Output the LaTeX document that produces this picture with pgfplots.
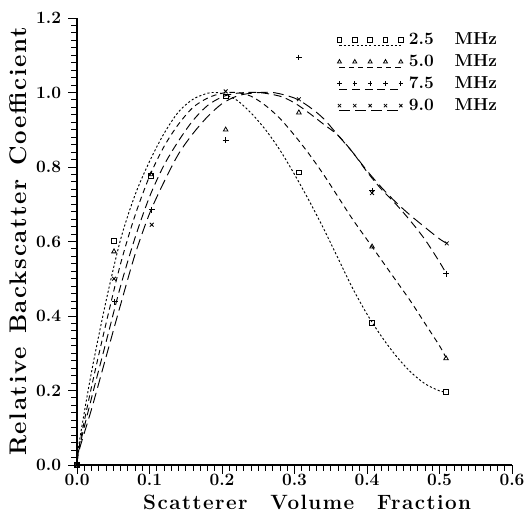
\documentclass[border=0pt]{standalone}
\usepackage{fontspec}
\newfontfamily\lblfont[LetterSpace=7]{Latin Modern Roman}
\usepackage{pgfplots}
\pgfplotsset{compat=1.18}
\pgfplotsset{
  leg/.style n args={2}{legend image code/.code={
      \draw[#1, line width=0.7pt] (0pt,-4pt) -- (46pt,-4pt);
      \draw[solid, line width=0.6pt, mark=#2, mark size=1.7pt] plot coordinates {(0pt,0pt)};
      \draw[solid, line width=0.6pt, mark=#2, mark size=1.7pt] plot coordinates {(11.5pt,0pt)};
      \draw[solid, line width=0.6pt, mark=#2, mark size=1.7pt] plot coordinates {(23pt,0pt)};
      \draw[solid, line width=0.6pt, mark=#2, mark size=1.7pt] plot coordinates {(34.5pt,0pt)};
      \draw[solid, line width=0.6pt, mark=#2, mark size=1.7pt] plot coordinates {(46pt,0pt)};
      \path[draw=none] (0pt,0pt) -- (50pt,0pt);
  }},
}
\begin{document}
\begin{tikzpicture}
\begin{axis}[
  name=ax,
  width=326pt, height=335pt, scale only axis,
  xmin=0, xmax=0.6, ymin=0, ymax=1.2,
  axis x line=bottom, axis y line=left,
  axis line style={-, line width=1pt},
  xtick={0,0.1,0.2,0.3,0.4,0.5,0.6},
  ytick={0,0.2,0.4,0.6,0.8,1.0,1.2},
  minor x tick num=9, minor y tick num=9,
  tick align=outside, major tick length=6.75pt, minor tick length=4.5pt,
  every tick/.style={black, line width=0.7pt},
  /pgf/number format/.cd, fixed, fixed zerofill, precision=1, assume math mode=true,
  /pgfplots/.cd,
  ticklabel style={font=\bfseries\fontsize{13}{15}\selectfont},
  xticklabel style={inner sep=1pt, yshift=1pt},
  yticklabel style={xshift=-1.7pt},
  xlabel={Scatterer\hspace{1.1em}Volume\hspace{1.1em}Fraction},
  ylabel={Relative\hspace{0.55em}Backscatter\hspace{0.55em}Coefficient},
  label style={font=\lblfont\bfseries\fontsize{18}{20}\selectfont},
  xlabel style={at={(axis description cs:0.529,0)}, anchor=base, yshift=-33.5pt,
    inner sep=0.5pt, font=\lblfont\bfseries\fontsize{15.5}{17}\selectfont},
  ylabel style={at={(axis description cs:0,0.5)}, anchor=center, yshift=44pt},
  legend style={draw=none, fill=none, at={(axis description cs:1,1)}, anchor=north east,
    xshift=-9pt, yshift=-9pt,
    font=\bfseries\fontsize{13}{15}\selectfont, row sep=2pt, inner sep=0pt},
  legend cell align=left,
  clip=false,
]
% fitted curves
\addplot[black, line width=0.7pt, dash pattern=on 1.6pt off 1.6pt, smooth, forget plot] coordinates {
(0,0) (0.003,0.06) (0.02,0.25) (0.04,0.44) (0.06,0.605) (0.08,0.725) (0.1,0.815) (0.12,0.89) (0.14,0.948) (0.16,0.982) (0.18,0.998) (0.19,1.0) (0.2,0.997) (0.22,0.98) (0.24,0.945) (0.26,0.9) (0.28,0.845) (0.3,0.78) (0.32,0.71) (0.34,0.635) (0.36,0.555) (0.38,0.475) (0.4,0.405) (0.42,0.345) (0.44,0.293) (0.46,0.25) (0.48,0.218) (0.5,0.199) (0.509,0.196)};
\addplot[black, line width=0.7pt, dash pattern=on 4pt off 3pt, smooth, forget plot] coordinates {
(0,0) (0.003,0.05) (0.02,0.21) (0.04,0.38) (0.06,0.54) (0.08,0.67) (0.1,0.775) (0.12,0.855) (0.14,0.915) (0.16,0.96) (0.18,0.985) (0.2,0.998) (0.22,1.0) (0.24,0.99) (0.26,0.965) (0.28,0.93) (0.3,0.885) (0.32,0.835) (0.34,0.78) (0.36,0.72) (0.38,0.66) (0.4,0.605) (0.42,0.55) (0.44,0.495) (0.46,0.44) (0.48,0.38) (0.5,0.32) (0.509,0.288)};
\addplot[black, line width=0.7pt, dash pattern=on 6pt off 3.5pt, smooth, forget plot] coordinates {
(0,0) (0.003,0.045) (0.02,0.18) (0.04,0.33) (0.06,0.48) (0.08,0.61) (0.1,0.72) (0.12,0.805) (0.14,0.87) (0.16,0.925) (0.18,0.965) (0.2,0.988) (0.22,0.998) (0.25,1.0) (0.28,0.99) (0.3,0.972) (0.32,0.945) (0.34,0.915) (0.36,0.885) (0.38,0.84) (0.4,0.787) (0.42,0.74) (0.44,0.70) (0.46,0.655) (0.48,0.605) (0.5,0.545) (0.509,0.515)};
\addplot[black, line width=0.7pt, dash pattern=on 8pt off 4pt, smooth, forget plot] coordinates {
(0,0) (0.003,0.04) (0.02,0.15) (0.04,0.29) (0.06,0.43) (0.08,0.565) (0.1,0.675) (0.12,0.76) (0.14,0.835) (0.16,0.89) (0.18,0.935) (0.2,0.97) (0.22,0.99) (0.24,0.998) (0.27,1.0) (0.3,0.985) (0.32,0.962) (0.34,0.93) (0.36,0.885) (0.38,0.84) (0.4,0.79) (0.42,0.745) (0.44,0.705) (0.46,0.67) (0.48,0.638) (0.5,0.607) (0.51,0.595)};
% data
\addplot[black, only marks, mark=square, mark size=1.7pt, line width=0.6pt, forget plot] coordinates {
(0,0) (0.051,0.602) (0.102,0.776) (0.205,0.989) (0.306,0.786) (0.407,0.382) (0.509,0.196)};
\addplot[black, only marks, mark=triangle, mark size=2pt, line width=0.6pt, forget plot] coordinates {
(0,0) (0.051,0.573) (0.102,0.78) (0.205,0.90) (0.306,0.946) (0.407,0.586) (0.509,0.286)};
\addplot[black, only marks, mark=+, mark size=2.2pt, line width=0.6pt, forget plot] coordinates {
(0,0) (0.052,0.438) (0.103,0.685) (0.205,0.872) (0.306,1.094) (0.407,0.736) (0.509,0.513)};
\addplot[black, only marks, mark=x, mark size=2pt, line width=0.6pt, forget plot] coordinates {
(0,0) (0.051,0.50) (0.103,0.645) (0.205,1.003) (0.306,0.982) (0.407,0.73) (0.51,0.595)};
\addlegendimage{leg={dash pattern=on 1.6pt off 1.6pt}{square}}
\addlegendentry{2.5\hspace{1.2em}MHz}
\addlegendimage{leg={dash pattern=on 4pt off 3pt}{triangle}}
\addlegendentry{5.0\hspace{1.2em}MHz}
\addlegendimage{leg={dash pattern=on 6pt off 3.5pt}{+}}
\addlegendentry{7.5\hspace{1.2em}MHz}
\addlegendimage{leg={dash pattern=on 8pt off 4pt}{x}}
\addlegendentry{9.0\hspace{1.2em}MHz}
\end{axis}
\pgfresetboundingbox
\path ([shift={(-57.75pt,-34.5pt)}]ax.south west) rectangle ([shift={(14.25pt,13.5pt)}]ax.north east);
\end{tikzpicture}
\end{document}
